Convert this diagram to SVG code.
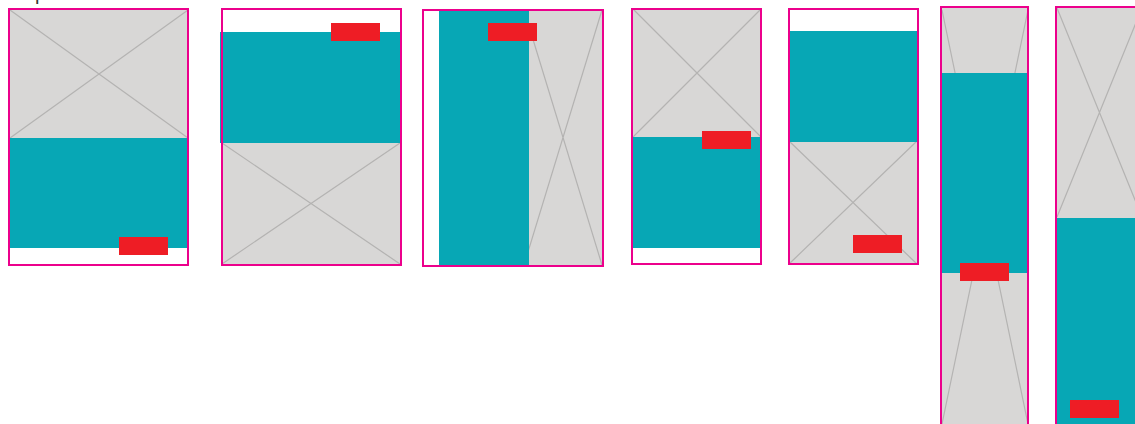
<svg xmlns="http://www.w3.org/2000/svg" width="1135" height="424" viewBox="0 0 1135 424">
<style>
.frame{fill:none;stroke:#ec008c;stroke-width:2}
.img{fill:#d8d7d6}
.xl{stroke:#b4b3b2;stroke-width:1.2;fill:none}
.teal{fill:#07a7b5}
.red{fill:#ee1d25}
.lbl{font-family:"Liberation Sans",Arial,sans-serif;font-size:20px;fill:#333}
</style>
<rect width="1135" height="424" fill="#ffffff"/>
<text class="lbl" x="35" y="0">p</text>

<g id="layout1">
<rect class="img" x="10" y="10" width="178" height="128"/>
<path class="xl" d="M10 10L188 138M188 10L10 138"/>
<rect class="teal" x="10" y="138" width="178" height="110"/>
<rect class="red" x="119" y="237" width="49" height="18"/>
<rect class="frame" x="9" y="9" width="179" height="256"/>
</g>

<g id="layout2">
<rect class="img" x="222" y="143" width="178" height="121"/>
<path class="xl" d="M222 143L400 264M400 143L222 264"/>
<rect class="teal" x="220" y="32" width="180" height="111"/>
<rect class="red" x="331" y="23" width="49" height="18"/>
<rect class="frame" x="222" y="9" width="179" height="256"/>
</g>

<g id="layout3">
<rect class="img" x="524" y="10" width="78" height="255"/>
<path class="xl" d="M524 10L602 265M602 10L524 265"/>
<rect class="teal" x="439" y="10" width="90" height="256"/>
<rect class="red" x="488" y="23" width="49" height="18"/>
<rect class="frame" x="423" y="10" width="180" height="256"/>
</g>

<g id="layout4">
<rect class="img" x="633" y="9" width="128" height="128"/>
<path class="xl" d="M633 9L761 137M761 9L633 137"/>
<rect class="teal" x="632" y="137" width="130" height="111"/>
<rect class="red" x="702" y="131" width="49" height="18"/>
<rect class="frame" x="632" y="9" width="129" height="255"/>
</g>

<g id="layout5">
<rect class="img" x="789" y="141" width="128" height="123"/>
<path class="xl" d="M789 141L917 264M917 141L789 264"/>
<rect class="teal" x="789" y="31" width="128" height="111"/>
<rect class="red" x="853" y="235" width="49" height="18"/>
<rect class="frame" x="789" y="9" width="129" height="255"/>
</g>

<g id="layout6">
<rect class="img" x="942" y="8" width="86" height="420"/>
<path class="xl" d="M942 10L1028 424M1028 10L942 424"/>
<rect class="teal" x="942" y="73" width="86" height="200"/>
<rect class="red" x="960" y="263" width="49" height="18"/>
<rect class="frame" x="941" y="7" width="87" height="430"/>
</g>

<g id="layout7">
<rect class="img" x="1057" y="8" width="86" height="210"/>
<path class="xl" d="M1057 8L1142 217M1142 8L1057 217"/>
<rect class="teal" x="1057" y="218" width="86" height="215"/>
<rect class="red" x="1070" y="400" width="49" height="18"/>
<rect class="frame" x="1056" y="7" width="87" height="430"/>
</g>
</svg>
